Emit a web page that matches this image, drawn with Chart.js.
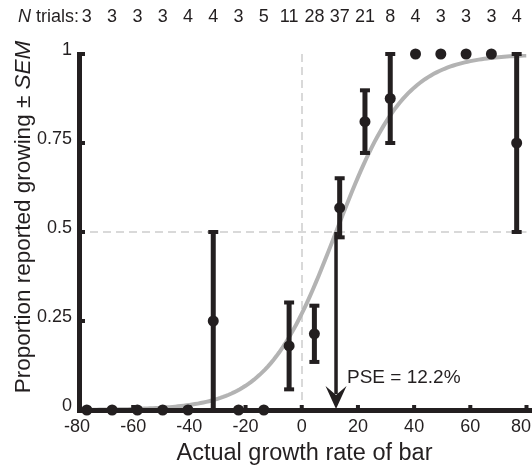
<!DOCTYPE html>
<html>
<head>
<meta charset="utf-8">
<script src="https://cdn.jsdelivr.net/npm/chart.js@4.4.1/dist/chart.umd.min.js"></script>
<style>
  html, body { margin: 0; padding: 0; background: #fff; }
  #wrap { width: 532px; height: 470px; }
</style>
</head>
<body>
<div id="wrap"><canvas id="chart" width="532" height="470"></canvas></div>
<script>
// bin centres of actual growth rate (%)
const binCenters = [-76.5, -67.5, -58.5, -49.5, -40.5, -31.5, -22.5, -13.5, -4.5,
  4.5, 13.5, 22.5, 31.5, 40.5, 49.5, 58.5, 67.5, 76.5];
const nTrials = [3, 3, 3, 3, 4, 4, 3, 5, 11, 28, 37, 21, 8, 4, 3, 3, 3, 4];
const propGrowing = [0, 0, 0, 0, 0, 0.25, 0, 0, 0.18, 0.214, 0.568, 0.81, 0.875, 1, 1, 1, 1, 0.75];
const sem = [0, 0, 0, 0, 0, 0.25, 0, 0, 0.122, 0.079, 0.083, 0.088, 0.125, 0, 0, 0, 0, 0.25];

const xTicks = [-80, -60, -40, -20, 0, 20, 40, 60, 80];
const yTicks = [0, 0.25, 0.5, 0.75, 1];
const yTickLabels = ['0', '0.25', '0.5', '0.75', '1'];

// logistic fit
const pse = 12.2;
const fitWidth = 12.3;

const ink = '#231f20';
const font = '"Liberation Sans", Arial, Helvetica, sans-serif';

let fitCurve = [];
for (let x = -80; x <= 80; x += 1) {
  fitCurve.push({x: x, y: 1 / (1 + Math.exp(-(x - pse) / fitWidth))});
}

const points = binCenters.map((x, i) => ({x: x, y: propGrowing[i]}));

const decor = {
  id: 'decor',
  beforeDatasetsDraw (chart) {
    const ctx = chart.ctx;
    const xs = chart.scales.x, ys = chart.scales.y;
    ctx.save();
    ctx.strokeStyle = '#d9d9d9';
    ctx.lineWidth = 2;
    ctx.setLineDash([8, 5]);
    ctx.beginPath();
    ctx.moveTo(xs.getPixelForValue(-80), ys.getPixelForValue(0.5));
    ctx.lineTo(xs.getPixelForValue(80), ys.getPixelForValue(0.5));
    const zx = Math.round(xs.getPixelForValue(0));
    ctx.moveTo(zx, ys.getPixelForValue(1));
    ctx.lineTo(zx, ys.getPixelForValue(0));
    ctx.stroke();
    ctx.restore();
  },
  afterDatasetsDraw (chart) {
    const ctx = chart.ctx;
    const xs = chart.scales.x, ys = chart.scales.y;
    ctx.save();
    ctx.fillStyle = ink;
    ctx.strokeStyle = ink;

    // error bars
    binCenters.forEach((x, i) => {
      if (!sem[i]) return;
      const px = xs.getPixelForValue(x);
      const lo = Math.max(0, propGrowing[i] - sem[i]);
      const hi = Math.min(1, propGrowing[i] + sem[i]);
      const pLo = ys.getPixelForValue(lo), pHi = ys.getPixelForValue(hi);
      ctx.fillRect(px - 2.5, pHi, 5, pLo - pHi);
      ctx.fillRect(px - 5, pHi - 2, 10, 4);
      if (lo > 0) ctx.fillRect(px - 5, pLo - 2, 10, 4);
    });

    // axes
    const left = xs.getPixelForValue(-80);
    const bottom = ys.getPixelForValue(0);
    const top = ys.getPixelForValue(1);
    ctx.fillRect(left, top - 2, 5, bottom - top + 5);
    ctx.fillRect(left, bottom - 2, chart.width - left, 5);
    yTicks.forEach(v => {
      if (v === 0) return;
      ctx.fillRect(left + 5, ys.getPixelForValue(v) - 2, 3, 4);
    });
    xTicks.forEach(v => {
      if (v === -80) return;
      ctx.fillRect(xs.getPixelForValue(v) - 2, bottom - 5, 4, 3);
    });

    // tick labels
    ctx.font = '18px ' + font;
    ctx.textBaseline = 'middle';
    ctx.textAlign = 'right';
    yTicks.forEach((v, i) => {
      ctx.fillText(yTickLabels[i], left - 5, ys.getPixelForValue(v) - 4);
    });
    ctx.textAlign = 'center';
    ctx.textBaseline = 'alphabetic';
    xTicks.forEach(v => {
      const label = String(v);
      const hw = ctx.measureText(label).width / 2;
      const cx = Math.min(xs.getPixelForValue(v), chart.width - hw - 1);
      ctx.fillText(label, cx, bottom + 22);
    });

    // N trials row
    ctx.textAlign = 'left';
    ctx.font = 'italic 18px ' + font;
    ctx.fillText('N', 18, 22);
    const nw = ctx.measureText('N').width;
    ctx.font = '18px ' + font;
    ctx.fillText(' trials:', 18 + nw, 22);
    ctx.textAlign = 'center';
    binCenters.forEach((x, i) => {
      ctx.fillText(String(nTrials[i]), xs.getPixelForValue(x), 22);
    });

    // PSE arrow
    const ax = xs.getPixelForValue(pse);
    ctx.fillRect(ax - 1.75, ys.getPixelForValue(0.5), 3.5, bottom - 16 - ys.getPixelForValue(0.5));
    ctx.beginPath();
    ctx.moveTo(ax, bottom - 1);
    ctx.lineTo(ax - 10.5, bottom - 24);
    ctx.lineTo(ax, bottom - 15);
    ctx.lineTo(ax + 10.5, bottom - 24);
    ctx.closePath();
    ctx.fill();
    ctx.textAlign = 'left';
    ctx.font = '19px ' + font;
    ctx.fillText('PSE = ' + pse + '%', 347, 383);

    // axis titles
    ctx.font = '23.5px ' + font;
    ctx.textAlign = 'center';
    ctx.fillText('Actual growth rate of bar', (left + chart.width) / 2, 460);

    ctx.translate(30, 217);
    ctx.rotate(-Math.PI / 2);
    ctx.textAlign = 'left';
    ctx.font = '22.5px ' + font;
    const part1 = 'Proportion reported growing \u00b1 ';
    const w1 = ctx.measureText(part1).width;
    ctx.font = 'italic 22.5px ' + font;
    const w2 = ctx.measureText('SEM').width;
    const start = -(w1 + w2) / 2;
    ctx.font = '22.5px ' + font;
    ctx.fillText(part1, start, 0);
    ctx.font = 'italic 22.5px ' + font;
    ctx.fillText('SEM', start + w1, 0);
    ctx.restore();
  }
};

new Chart(document.getElementById('chart'), {
  type: 'scatter',
  data: {
    datasets: [
      {
        data: points,
        pointRadius: 5.5,
        pointBackgroundColor: ink,
        pointBorderWidth: 0,
        clip: false
      },
      {
        type: 'line',
        data: fitCurve,
        borderColor: '#b3b3b3',
        borderWidth: 4,
        pointRadius: 0,
        fill: false,
        tension: 0
      }
    ]
  },
  options: {
    responsive: false,
    animation: false,
    devicePixelRatio: 1,
    layout: { padding: { left: 77, right: 2, top: 54, bottom: 60 } },
    scales: {
      x: { type: 'linear', min: -80, max: 80, display: false },
      y: { type: 'linear', min: 0, max: 1, display: false }
    },
    plugins: { legend: { display: false }, tooltip: { enabled: false } }
  },
  plugins: [decor]
});
</script>
</body>
</html>
